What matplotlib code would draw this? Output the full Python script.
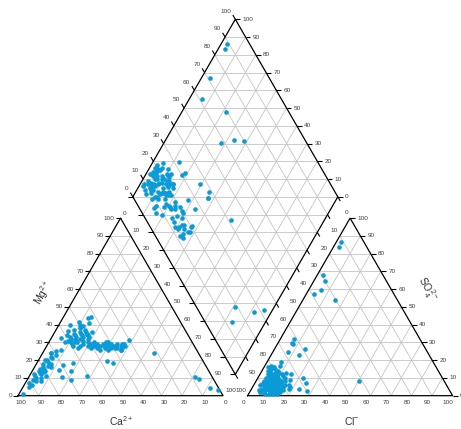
import numpy as np
import matplotlib.pyplot as plt

plt.rcParams['font.family'] = ['Liberation Sans', 'DejaVu Sans']
plt.rcParams['mathtext.fontset'] = 'custom'
plt.rcParams['mathtext.rm'] = 'Liberation Sans'
plt.rcParams['mathtext.it'] = 'Liberation Sans:italic'

# meq% of the major ions, one entry per water sample
# cations: Mg2+ and Na+ + K+ (Ca2+ is the remainder)
mg = [1, 5, 6, 7, 8, 9, 10, 10, 11, 12, 12, 13, 14, 14, 15, 16, 17, 18, 18, 19,
      20, 21, 22, 23, 24, 25, 26, 8, 11, 16, 13.5,
      30, 31, 32, 33, 34, 35, 30, 31, 32, 33, 34, 35, 36, 37, 38, 29, 30, 31, 32, 33,
      34, 35, 36, 29, 30, 31, 33, 28, 28, 32, 34, 36, 37, 39, 40,
      43.6, 44.5, 40.8, 41.3, 39.8, 32.3, 34.8, 26.7, 30.5,
      28, 29, 27, 28, 30, 29, 27, 28, 26, 29, 28, 27, 30, 28, 29, 26, 27, 28, 29, 27,
      28, 26, 29, 28, 27,
      20, 15, 24, 36.6, 8.9, 11.1, 19.7, 31.4, 14.5, 18.2, 14.1, 28, 29, 18.6, 27,
      30, 28, 23.9, 26, 10.7, 17.3, 10.7, 4.2, 3.2, 9.2]
nak = [2, 3, 4, 2, 5, 3, 4, 6, 3, 5, 2, 4, 6, 3, 5, 4, 6, 3, 7, 5,
       4, 6, 5, 7, 4, 6, 8, 7, 8, 8, 5.3,
       8, 10, 12, 9, 11, 13, 14, 16, 18, 15, 7, 10, 12, 9, 11, 12, 11, 13, 10, 12,
       14, 16, 15, 17, 19, 9, 18, 13, 16, 14, 17, 18, 14, 12, 10,
       12.5, 13.2, 14.4, 9.2, 5.5, 4.8, 16, 15.8, 12.5,
       20, 21, 22, 23, 22, 24, 25, 26, 27, 27, 28, 29, 29, 30, 31, 31, 32, 33, 34, 35,
       36, 37, 37, 38, 34,
       3, 3, 4, 6.1, 21.4, 28, 33.7, 38.6, 12.9, 17.6, 18.8, 29, 36, 36.9, 37,
       28, 34, 54.3, 37, 16, 13.4, 81, 91.6, 96, 83.7]
# anions: SO4 2- and Cl- (HCO3- + CO3 2- is the remainder)
so4 = [2, 4, 6, 8, 3, 5, 10, 12, 7, 9, 1, 14, 4, 6, 11, 3, 8, 15, 2, 5,
       13, 7, 10, 1, 16, 4, 9, 6, 12, 3, 17,
       3, 6, 9, 2, 5, 8, 11, 4, 7, 13, 1, 10, 6, 3, 12, 15, 5, 8, 2, 9,
       4, 11, 7, 14, 6, 3, 10, 1, 8, 5, 12, 2, 16, 4, 7,
       17, 9, 6, 13, 3, 11, 5, 8, 10,
       5, 8, 3, 10, 6, 12, 4, 9, 7, 2, 11, 5, 8, 14, 3, 6, 10, 4, 7, 9,
       2, 12, 5, 8, 6,
       86.7, 83.9, 68, 57.3, 53.9, 8.3, 59.5, 64.6, 24.8, 2.6, 7.3, 29.9, 31.8, 29, 22.9,
       19, 3.6, 26.1, 16.3, 2, 2, 8, 12, 10, 5]
cl = [6, 8, 5, 7, 10, 12, 6, 4, 9, 11, 8, 3, 14, 15, 9, 5, 13, 4, 12, 7,
      7, 4, 10, 12, 2, 18, 5, 11, 8, 7, 7.5,
      9, 12, 8, 15, 6, 14, 5, 11, 7, 9, 10, 13, 17, 13, 11, 6, 9, 4, 7, 16,
      5, 12, 10, 8, 3, 16, 9, 14, 11, 15, 6, 10, 5, 8, 13,
      3, 7, 14, 12, 4, 7, 18, 9, 4,
      10, 7, 12, 8, 13, 5, 9, 11, 6, 14, 9, 7, 12, 4, 10, 8, 6, 13, 9, 5,
      11, 8, 12, 10, 6,
      2.2, 2.6, 2.9, 3.7, 15.5, 50, 6, 5.5, 7.5, 27.5, 25, 6.5, 6.9, 7.5, 13.6,
      7, 23.3, 15, 4.3, 5, 5, 11, 15, 22, 8]

ticks = list(range(0, 101, 10))

h = np.sqrt(3) / 2
gap = 12
off = 100 + gap  # x offset of the anion triangle

grid_c = '#c4c4c4'
lab_c = '#404040'
pt_c = '#0a9ad6'
fs = 4.6


def cat_xy(m, n):
    m, n = np.asarray(m, float), np.asarray(n, float)
    return n + 0.5 * m, h * m


def an_xy(s, c):
    s, c = np.asarray(s, float), np.asarray(c, float)
    return off + c + 0.5 * s, h * s


def dia_xy(n, sc):
    n, sc = np.asarray(n, float), np.asarray(sc, float)
    return off / 2 + 0.5 * (n + sc), h * off + h * (sc - n)


def seg(ax, p, q, **kw):
    ax.plot([p[0], q[0]], [p[1], q[1]], solid_capstyle='butt', **kw)


def lattice(ax, A, B, C):
    A, B, C = map(np.asarray, (A, B, C))
    for t in np.arange(0.1, 0.95, 0.1):
        for P, Q, R in ((A, B, C), (B, C, A), (C, A, B)):
            seg(ax, P + t * (Q - P), P + t * (R - P), color=grid_c, lw=0.6, zorder=1)


fig = plt.figure(figsize=(4.61, 4.29), dpi=100)
ax = fig.add_axes([0, 0, 1, 1])
ax.set_xlim(-8.8, 216.1)
ax.set_ylim(-16.25, 193.0)
ax.axis('off')

# cation triangle
A1, B1, C1 = (0, 0), (100, 0), (50, 100 * h)
lattice(ax, A1, B1, C1)
ax.plot([A1[0], B1[0], C1[0], A1[0]], [A1[1], B1[1], C1[1], A1[1]], color='k', lw=0.9, zorder=2)

# anion triangle
A2, B2, C2 = (off, 0), (off + 100, 0), (off + 50, 100 * h)
lattice(ax, A2, B2, C2)
ax.plot([A2[0], B2[0], C2[0], A2[0]], [A2[1], B2[1], C2[1], A2[1]], color='k', lw=0.9, zorder=2)

# diamond
L = np.array(dia_xy(0, 0))
T = np.array(dia_xy(0, 100))
R = np.array(dia_xy(100, 100))
B = np.array(dia_xy(100, 0))
for t in np.arange(0.1, 0.95, 0.1):
    seg(ax, L + t * (T - L), B + t * (R - B), color=grid_c, lw=0.6, zorder=1)
    seg(ax, L + t * (B - L), T + t * (R - T), color=grid_c, lw=0.6, zorder=1)
for k in range(-9, 10):
    y = L[1] + k * 10 * h
    seg(ax, (L[0] + abs(k) * 5, y), (R[0] - abs(k) * 5, y), color=grid_c, lw=0.6, zorder=1)
ax.plot([L[0], T[0], R[0], B[0], L[0]], [L[1], T[1], R[1], B[1], L[1]], color='k', lw=0.9, zorder=2)

tl = 2.4
tk = dict(color='k', lw=0.8, zorder=2)
txt = dict(fontsize=fs, color=lab_c, va='center')

for v in ticks:
    # Mg2+ (left edge, cation triangle)
    p = cat_xy(v, 0)
    seg(ax, p, (p[0] - tl, p[1]), **tk)
    ax.text(p[0] - tl - 0.6, p[1], str(v), ha='right', **txt)
    # Ca2+ (base, cation triangle)
    p = cat_xy(0, 100 - v)
    ax.text(p[0] + 1.3, -3.1, str(v), ha='center', **txt)
    # Na+ + K+ (right edge, cation triangle)
    p = cat_xy(100 - v, v)
    ax.text(p[0] + 1.0, p[1] + 2.4, str(v), ha='left', **txt)

    # Cl- (base, anion triangle)
    p = an_xy(0, v)
    ax.text(p[0] - 2.2, -3.1, str(v), ha='center', **txt)
    # SO4 2- (right edge, anion triangle)
    p = an_xy(v, 100 - v)
    seg(ax, p, (p[0] + tl, p[1]), **tk)
    ax.text(p[0] + tl + 1.2, p[1], str(v), ha='left', **txt)
    # HCO3- (left edge, anion triangle)
    p = an_xy(100 - v, 0)
    ax.text(p[0] - 0.8, p[1] + 2.7, str(v), ha='right', **txt)

    # diamond, SO4 + Cl (upper left)
    p = dia_xy(0, v)
    seg(ax, p, (p[0] - 0.5 * tl, p[1] + h * tl), **tk)
    ax.text(p[0] - 2.0, p[1] + 4.0, str(v), ha='right', **txt)
    # diamond, Ca + Mg (upper right)
    p = dia_xy(100 - v, 100)
    seg(ax, p, (p[0] + tl, p[1]), **tk)
    ax.text(p[0] + tl + 1.2, p[1], str(v), ha='left', **txt)
    # diamond, lower edges (ticks only)
    p = dia_xy(v, 0)
    seg(ax, p, (p[0] - tl, p[1]), **tk)
    p = dia_xy(100, v)
    seg(ax, p, (p[0] + 0.5 * tl, p[1] - h * tl), **tk)

# samples
x1, y1 = cat_xy(mg, nak)
x2, y2 = an_xy(so4, cl)
x3, y3 = dia_xy(nak, np.add(so4, cl))
for x, y in ((x1, y1), (x2, y2), (x3, y3)):
    ax.scatter(x, y, s=11, color=pt_c, linewidths=0, zorder=3)

ttl = dict(fontsize=7.5, color='#333333', ha='center', va='center')
ax.text(50.2, -12.2, r'Ca$^{2+}$', **ttl)
ax.text(off + 50.8, -12.2, r'Cl$^{-}$', **ttl)
ax.text(12.3, 50.0, r'Mg$^{2+}$', rotation=60, **ttl)
ax.text(199.5, 52.0, r'SO$_4^{2-}$', rotation=-60, **ttl)

fig.savefig('out.png', dpi=100)
